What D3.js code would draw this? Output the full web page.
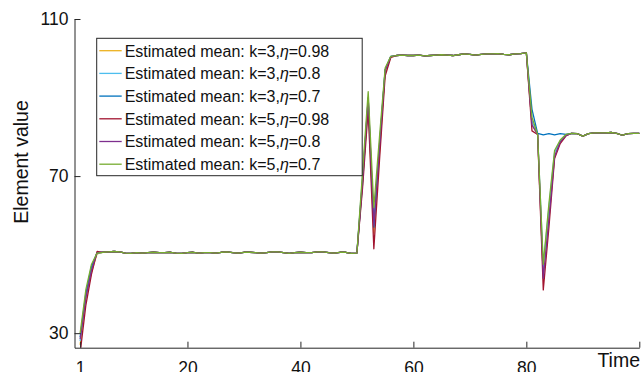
<!DOCTYPE html>
<html><head><meta charset="utf-8">
<script src="https://cdn.jsdelivr.net/npm/d3@7"></script>
<style>body{margin:0;background:#fff}svg{display:block}text{font-family:"Liberation Sans",Arial,sans-serif}</style>
</head><body>
<svg id="c" width="641" height="372"></svg>
<script>
// time steps 1..100
const times = d3.range(1, 101);
const xTicks = [1, 20, 40, 60, 80, 100];
const xTickLabels = ["1", "20", "40", "60", "80", ""];
const yTicks = [30, 70, 110];
const seriesNames = [
  ["Estimated mean: k=3,", "0.98"],
  ["Estimated mean: k=3,", "0.8"],
  ["Estimated mean: k=3,", "0.7"],
  ["Estimated mean: k=5,", "0.98"],
  ["Estimated mean: k=5,", "0.8"],
  ["Estimated mean: k=5,", "0.7"]
];
const seriesColors = ["#EDB120", "#4DBEEE", "#0072BD", "#A2142F", "#7E2F8E", "#77AC30"];

// k=3, eta=0.98
const s1 = [27,38.5,45.5,50.2,50.6,50.7,50.8,50.7,50.4,50.3,50.5,50.4,50.5,50.6,50.5,50.5,50.6,50.4,50.3,50.5,
 50.6,50.4,50.5,50.5,50.4,50.6,50.7,50.5,50.4,50.6,50.6,50.5,50.4,50.5,50.7,50.7,50.5,50.3,50.5,50.6,
 50.5,50.5,50.7,50.7,50.5,50.4,50.6,50.6,50.3,50.4,69,88.5,55.5,76,96.5,100.3,100.7,100.8,100.7,100.7,
 100.8,100.6,100.7,100.8,100.9,100.8,100.7,100.9,101.1,101.0,100.8,101.0,101.1,101.1,101.2,101.0,100.9,101.1,101.2,101.4,
 83,80.6,44,60,75,78.8,80.4,80.9,80.8,80.2,80.8,81.0,81.0,81.0,81.1,80.9,80.4,80.8,80.9,80.9];
// k=3, eta=0.8
const s2 = [28,39.5,46.5,50.4,50.6,50.7,50.8,50.7,50.4,50.3,50.5,50.4,50.5,50.6,50.5,50.5,50.6,50.4,50.3,50.5,
 50.6,50.4,50.5,50.5,50.4,50.6,50.7,50.5,50.4,50.6,50.6,50.5,50.4,50.5,50.7,50.7,50.5,50.3,50.5,50.6,
 50.5,50.5,50.7,50.7,50.5,50.4,50.6,50.6,50.3,50.4,70,89,57,77,97,100.4,100.7,100.8,100.7,100.7,
 100.8,100.6,100.7,100.8,100.9,100.8,100.7,100.9,101.1,101.0,100.8,101.0,101.1,101.1,101.2,101.0,100.9,101.1,101.2,101.4,
 84,80.6,47,62,76,79,80.5,80.9,80.8,80.2,80.8,81.0,81.0,81.0,81.1,80.9,80.4,80.8,80.9,80.9];
// k=3, eta=0.7
const s3 = [29,40,47,50.5,50.6,50.7,50.8,50.7,50.4,50.3,50.5,50.4,50.5,50.6,50.5,50.5,50.6,50.4,50.3,50.5,
 50.6,50.4,50.5,50.5,50.4,50.6,50.7,50.5,50.4,50.6,50.6,50.5,50.4,50.5,50.7,50.7,50.5,50.3,50.5,50.6,
 50.5,50.5,50.7,50.7,50.5,50.4,50.6,50.6,50.3,50.4,68,89.8,57,78,97,100.5,100.7,100.8,100.7,100.7,
 100.8,100.6,100.7,100.8,100.9,100.8,100.7,100.9,101.1,101.0,100.8,101.0,101.1,101.1,101.2,101.0,100.9,101.1,101.2,101.4,
 87,80.9,80.5,80.8,80.5,80.8,80.6,80.9,80.8,80.2,80.8,81.0,81.0,81.0,81.1,80.9,80.4,80.8,80.9,80.9];
// k=5, eta=0.98
const s4 = [25,37,45,50.8,50.6,50.7,50.8,50.7,50.4,50.3,50.5,50.4,50.5,50.6,50.5,50.5,50.6,50.4,50.3,50.5,
 50.6,50.4,50.5,50.5,50.4,50.6,50.7,50.5,50.4,50.6,50.6,50.5,50.4,50.5,50.7,50.7,50.5,50.3,50.5,50.6,
 50.5,50.5,50.7,50.7,50.5,50.4,50.6,50.6,50.3,50.4,67,87,51.5,74,95.5,100.2,100.7,100.8,100.7,100.7,
 100.8,100.6,100.7,100.8,100.9,100.8,100.7,100.9,101.1,101.0,100.8,101.0,101.1,101.1,101.2,101.0,100.9,101.1,101.2,101.4,
 81.5,80.6,41,57,74.5,78.3,80.2,80.9,80.8,80.2,80.8,81.0,81.0,81.0,81.1,80.9,80.4,80.8,80.9,80.9];
// k=5, eta=0.8
const s5 = [28.5,39,46,50.5,50.6,50.7,50.8,50.7,50.4,50.3,50.5,50.4,50.5,50.6,50.5,50.5,50.6,50.4,50.3,50.5,
 50.6,50.4,50.5,50.5,50.4,50.6,50.7,50.5,50.4,50.6,50.6,50.5,50.4,50.5,50.7,50.7,50.5,50.3,50.5,50.6,
 50.5,50.5,50.7,50.7,50.5,50.4,50.6,50.6,50.3,50.4,69,90,57.5,77.5,97,100.4,100.7,100.8,100.7,100.7,
 100.8,100.6,100.7,100.8,100.9,100.8,100.7,100.9,101.1,101.0,100.8,101.0,101.1,101.1,101.2,101.0,100.9,101.1,101.2,101.4,
 83,80.6,44,59,75,78.7,80.3,80.9,80.8,80.2,80.8,81.0,81.0,81.0,81.1,80.9,80.4,80.8,80.9,80.9];
// k=5, eta=0.7
const s6 = [30,41,47.5,50.4,50.6,50.7,50.8,50.7,50.4,50.3,50.5,50.4,50.5,50.6,50.5,50.5,50.6,50.4,50.3,50.5,
 50.6,50.4,50.5,50.5,50.4,50.6,50.7,50.5,50.4,50.6,50.6,50.5,50.4,50.5,50.7,50.7,50.5,50.3,50.5,50.6,
 50.5,50.5,50.7,50.7,50.5,50.4,50.6,50.6,50.3,50.4,71,91.5,62,80,97.5,100.5,100.7,100.8,100.7,100.7,
 100.8,100.6,100.7,100.8,100.9,100.8,100.7,100.9,101.1,101.0,100.8,101.0,101.1,101.1,101.2,101.0,100.9,101.1,101.2,101.4,
 85,80.6,47.5,63,76.5,79.2,80.6,80.9,80.8,80.2,80.8,81.0,81.0,81.0,81.1,80.9,80.4,80.8,80.9,80.9];

const seriesValues = [s1, s2, s3, s4, s5, s6];

const svg = d3.select("#c");
const L = 74.5, R = 639.3, T = 19, B = 347.7;
const x = d3.scaleLinear().domain([0, 100]).range([L, R]);
const y = d3.scaleLinear().domain([26.3, 110]).range([B, T]);

svg.append("defs").append("clipPath").attr("id", "clip")
  .append("rect").attr("x", L).attr("y", T).attr("width", R - L + 2).attr("height", B - T);

const line = d3.line().x((d, i) => x(times[i])).y(d => y(d));
const g = svg.append("g").attr("clip-path", "url(#clip)");
seriesValues.forEach((vals, k) => {
  g.append("path").attr("d", line(vals)).attr("fill", "none")
    .attr("stroke", seriesColors[k]).attr("stroke-width", 1.3).attr("stroke-linejoin", "round");
});

// axes
const xAxis = svg.append("g").attr("transform", `translate(0,${B})`)
  .call(d3.axisBottom(x).tickValues(xTicks).tickSizeInner(-6).tickSizeOuter(0).tickPadding(12)
    .tickFormat((d, i) => xTickLabels[i]));
const yAxis = svg.append("g").attr("transform", `translate(${L},0)`)
  .call(d3.axisLeft(y).tickValues(yTicks).tickSizeInner(-6).tickSizeOuter(0).tickPadding(7).tickFormat(d3.format("d")));
[xAxis, yAxis].forEach(a => {
  a.select(".domain").attr("stroke", "#262626").attr("stroke-width", 1);
  a.selectAll(".tick line").attr("stroke", "#262626");
  a.selectAll("text").attr("fill", "#111").style("font-size", "17.5px").style("font-family", "Liberation Sans, Arial, sans-serif");
});
xAxis.selectAll(".tick text").attr("dy", "0.71em").attr("y", 14);
yAxis.selectAll(".tick text").attr("x", -6);

svg.append("text").attr("x", 640).attr("y", 366.5).attr("text-anchor", "end")
  .style("font-size", "19.5px").attr("fill", "#111").text("Time");
svg.append("text").attr("transform", "translate(28,162) rotate(-90)").attr("text-anchor", "middle")
  .style("font-size", "19.5px").attr("fill", "#111").text("Element value");

// legend
const lg = svg.append("g");
lg.append("rect").attr("x", 96.7).attr("y", 38.3).attr("width", 265.5).attr("height", 137.4)
  .attr("fill", "#fff").attr("stroke", "#262626").attr("stroke-width", 1);
seriesNames.forEach((nm, k) => {
  const yy = 50.7 + k * 22.7;
  lg.append("line").attr("x1", 99.3).attr("x2", 121.7).attr("y1", yy).attr("y2", yy)
    .attr("stroke", seriesColors[k]).attr("stroke-width", 1.3);
  const t = lg.append("text").attr("x", 124.7).attr("y", yy + 5.8).style("font-size", "16px").attr("fill", "#111");
  t.append("tspan").text(nm[0]);
  t.append("tspan").style("font-style", "italic").text("η");
  t.append("tspan").text("=" + nm[1]);
});
</script>
</body></html>
